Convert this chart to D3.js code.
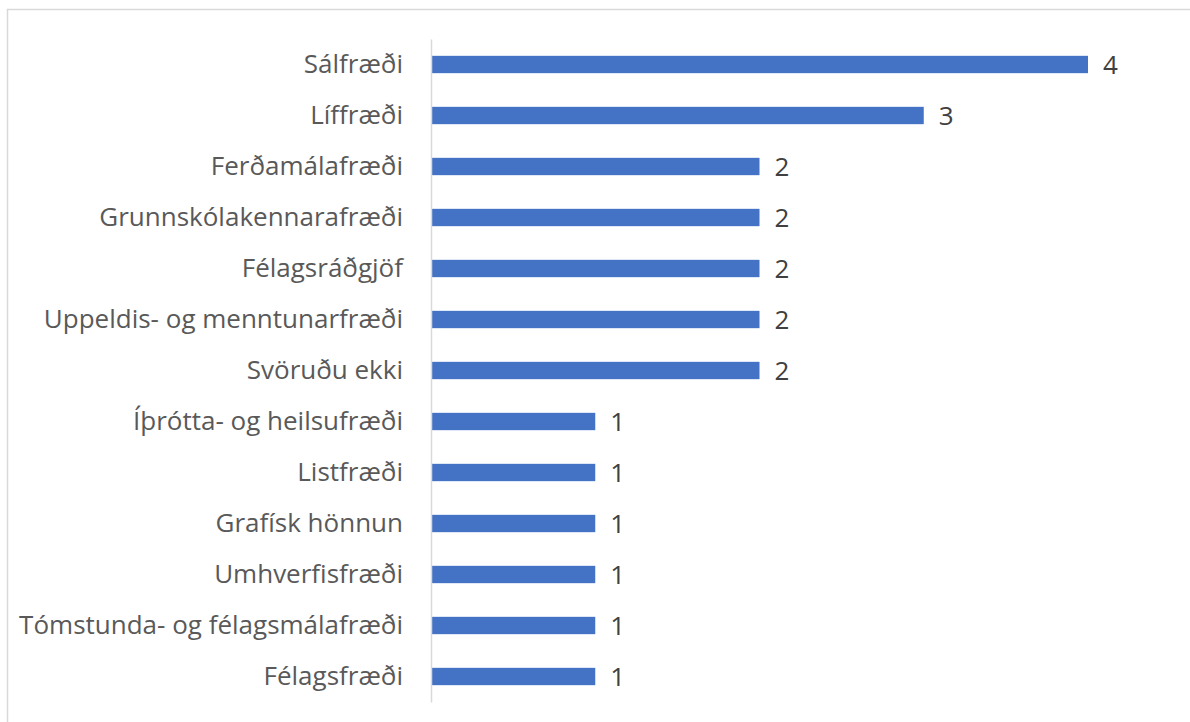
<!DOCTYPE html>
<html lang="is">
<head>
  <meta charset="utf-8">
  <title>Námsgreinar</title>
  <script src="https://d3js.org/d3.v7.min.js"></script>
  <style>
    body { margin: 0; background: #fff; }
    text { font-family: "Open Sans", sans-serif; }
  </style>
</head>
<body>
  <svg width="1190" height="722"></svg>
  <script>
    const categories = [
      "Sálfræði",
      "Líffræði",
      "Ferðamálafræði",
      "Grunnskólakennarafræði",
      "Félagsráðgjöf",
      "Uppeldis- og menntunarfræði",
      "Svöruðu ekki",
      "Íþrótta- og heilsufræði",
      "Listfræði",
      "Grafísk hönnun",
      "Umhverfisfræði",
      "Tómstunda- og félagsmálafræði",
      "Félagsfræði"
    ];
    const values = [4, 3, 2, 2, 2, 2, 2, 1, 1, 1, 1, 1, 1];

    const svg = d3.select("svg");

    // chart frame (runs off the bottom/right of the picture)
    svg.append("rect")
      .attr("x", 7.5).attr("y", 9.5)
      .attr("width", 1200).attr("height", 730)
      .attr("fill", "none")
      .attr("stroke", "#d9d9d9")
      .attr("stroke-width", 1.5);

    const x = d3.scaleLinear().domain([0, 4]).range([431, 1088]);
    const y = d3.scaleBand()
      .domain(categories)
      .range([39, 702])
      .paddingInner(0.66)
      .paddingOuter(0.33);

    svg.selectAll("rect.bar")
      .data(categories)
      .enter()
      .append("rect")
      .attr("class", "bar")
      .attr("x", x(0))
      .attr("y", d => y(d))
      .attr("width", (d, i) => x(values[i]) - x(0))
      .attr("height", y.bandwidth())
      .attr("fill", "#4472c4");

    // category axis
    const yAxis = svg.append("g")
      .attr("transform", `translate(${x(0)},0)`)
      .call(d3.axisLeft(y).tickSize(0).tickPadding(28));
    yAxis.select(".domain")
      .attr("stroke", "#d9d9d9")
      .attr("stroke-width", 1.5);
    yAxis.selectAll("text")
      .attr("font-size", 26)
      .attr("font-family", "Open Sans, sans-serif")
      .attr("fill", "#595959");

    // value labels
    svg.selectAll("text.val")
      .data(categories)
      .enter()
      .append("text")
      .attr("class", "val")
      .attr("x", (d, i) => x(values[i]) + 15)
      .attr("y", d => y(d) + y.bandwidth() / 2)
      .attr("dy", "0.35em")
      .attr("font-size", 26)
      .attr("fill", "#404040")
      .text((d, i) => values[i]);
  </script>
</body>
</html>
